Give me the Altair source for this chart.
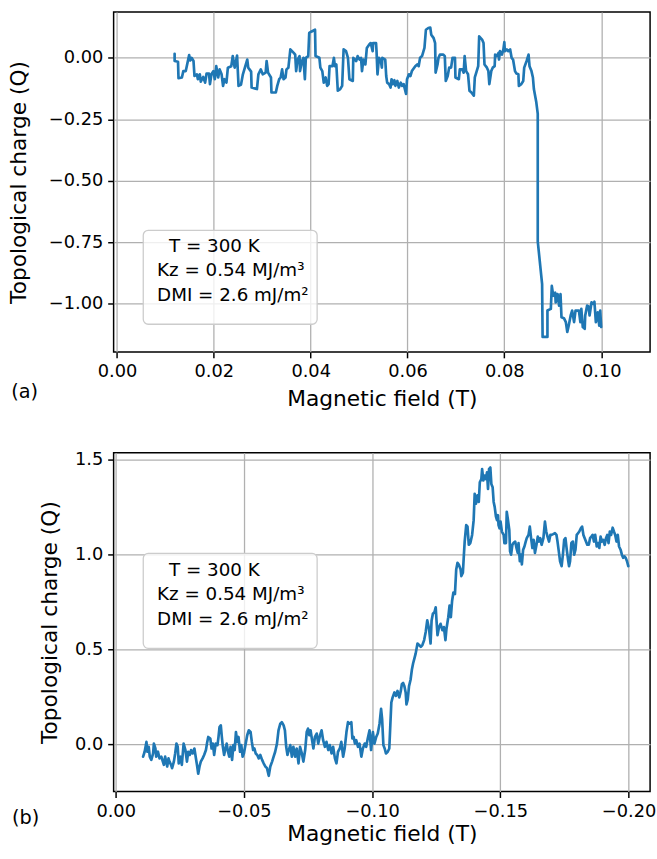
import altair as alt
import pandas as pd

# ---------------- data ----------------
# Panel (a): increasing field
TOP_FIELD = [
    0.0119, 0.0119, 0.0126, 0.0127, 0.0134, 0.0137, 0.0142, 0.0149, 0.0151, 0.0154,
    0.0158, 0.0160, 0.0165, 0.0167, 0.0171, 0.0173, 0.0178, 0.0182, 0.0185, 0.0190,
    0.0192, 0.0195, 0.0199, 0.0202, 0.0205, 0.0209, 0.0212, 0.0216, 0.0219, 0.0222,
    0.0226, 0.0229, 0.0236, 0.0239, 0.0243, 0.0248, 0.0251, 0.0256, 0.0260, 0.0269,
    0.0271, 0.0277, 0.0278, 0.0289, 0.0292, 0.0297, 0.0301, 0.0307, 0.0309, 0.0312,
    0.0318, 0.0319, 0.0328, 0.0331, 0.0335, 0.0338, 0.0341,
    0.0344, 0.0348, 0.0350, 0.0354, 0.0358, 0.0365, 0.0368, 0.0370, 0.0373, 0.0377,
    0.0378, 0.0382, 0.0385, 0.0388, 0.0390, 0.0395, 0.0397, 0.0402, 0.0409, 0.0410,
    0.0418, 0.0420, 0.0424, 0.0427, 0.0431, 0.0434, 0.0437, 0.0439, 0.0445, 0.0448,
    0.0450, 0.0453, 0.0456, 0.0461, 0.0465, 0.0468, 0.0473, 0.0477, 0.0480, 0.0487,
    0.0488, 0.0494, 0.0497, 0.0501, 0.0504, 0.0506, 0.0509, 0.0513, 0.0516, 0.0521,
    0.0524, 0.0528, 0.0529, 0.0535, 0.0536, 0.0538, 0.0541, 0.0545, 0.0547, 0.0548,
    0.0554, 0.0556, 0.0558, 0.0562, 0.0565, 0.0567, 0.0570, 0.0573, 0.0575, 0.0579,
    0.0582, 0.0586, 0.0589, 0.0592, 0.0597, 0.0599, 0.0603, 0.0606, 0.0609, 0.0616,
    0.0620, 0.0623, 0.0626, 0.0630, 0.0635, 0.0638, 0.0643, 0.0647, 0.0649, 0.0654,
    0.0657, 0.0658, 0.0662, 0.0664, 0.0667, 0.0674, 0.0677, 0.0679, 0.0683, 0.0686,
    0.0690,
    0.0693, 0.0698, 0.0699, 0.0706, 0.0708, 0.0713, 0.0716, 0.0718, 0.0721, 0.0725,
    0.0728, 0.0732, 0.0737, 0.0739, 0.0742, 0.0746, 0.0748, 0.0754, 0.0757, 0.0759,
    0.0764, 0.0767, 0.0769, 0.0773, 0.0776, 0.0780, 0.0781, 0.0784, 0.0788, 0.0789,
    0.0791, 0.0795, 0.0798, 0.0800, 0.0801, 0.0805, 0.0808, 0.0812, 0.0815, 0.0818,
    0.0822, 0.0825, 0.0829, 0.0830, 0.0835, 0.0839, 0.0841, 0.0846, 0.0850, 0.0852,
    0.0856, 0.0859, 0.0861, 0.0866, 0.0869,
    0.0869, 0.0878, 0.0879, 0.0889, 0.0889, 0.0896, 0.0898, 0.0901, 0.0905, 0.0906,
    0.0910, 0.0913, 0.0916, 0.0918, 0.0923, 0.0927, 0.0930, 0.0933, 0.0937, 0.0940,
    0.0944, 0.0947, 0.0954, 0.0957, 0.0959, 0.0962, 0.0966, 0.0967, 0.0971, 0.0974,
    0.0976, 0.0980, 0.0984, 0.0986, 0.0989, 0.0991, 0.0993, 0.0996, 0.0998, 0.1000,
]
TOP_Q = [
    0.016, -0.013, -0.016, -0.083, -0.080, -0.054, -0.054, 0.011, -0.011, 0.000,
    -0.013, -0.074, -0.067, -0.087, -0.067, -0.097, -0.078, -0.101, -0.064, -0.064,
    -0.107, -0.067, -0.054, -0.087, -0.034, -0.080, -0.047, -0.067, -0.114, -0.087,
    -0.101, -0.040, -0.034, 0.007, -0.040, 0.009, -0.114, -0.110, -0.067, -0.007,
    -0.040, -0.056, -0.121, -0.127, -0.067, -0.047, -0.067, -0.060, -0.013, -0.060,
    -0.080, -0.141, -0.141, -0.114, -0.087, -0.080, -0.047,
    -0.087, -0.080, -0.047, -0.040, 0.034, 0.020, 0.013, -0.054, -0.007, 0.007,
    -0.054, -0.013, 0.000, -0.087, 0.000, 0.007, 0.101, 0.107, 0.114, 0.007,
    0.000, -0.040, -0.054, -0.101, -0.080, -0.114, -0.107, -0.034, -0.034, 0.000,
    -0.034, -0.027, -0.134, -0.127, -0.114, 0.034, 0.027, 0.000, -0.087, -0.094,
    0.000, -0.013, 0.007, -0.007, 0.000, -0.054, -0.007, -0.027, 0.040, 0.054,
    0.060, 0.027, 0.060, 0.060, 0.027, -0.067, 0.000, -0.013, -0.040, 0.000,
    -0.007, -0.074, -0.101, -0.107, -0.121, -0.087, -0.107, -0.091, -0.114, -0.094,
    -0.121, -0.101, -0.114, -0.107, -0.147, -0.087, -0.067, -0.074, -0.054, -0.034,
    -0.027, -0.034, 0.000, 0.007, 0.040, 0.114, 0.121, 0.123, 0.094, 0.080,
    0.060, -0.060, -0.027, 0.000, 0.013, 0.013, 0.007, -0.094, -0.074, -0.040,
    -0.040,
    0.000, 0.000, -0.080, -0.087, -0.047, -0.047, -0.060, 0.007, -0.054, -0.067,
    -0.134, -0.141, -0.154, -0.080, -0.060, -0.034, 0.087, 0.074, 0.060, -0.027,
    -0.040, -0.054, -0.107, -0.054, -0.040, -0.034, 0.013, 0.007, 0.020, -0.007,
    0.027, 0.013, 0.034, 0.064, 0.027, 0.034, 0.027, 0.034, 0.000, -0.007,
    -0.054, -0.064, -0.067, -0.114, -0.107, -0.094, -0.040, -0.013, 0.013, -0.034,
    -0.054, -0.080, -0.127, -0.181, -0.228,
    -0.746, -0.920, -1.134, -1.134, -1.027, -1.020, -0.927, -0.967, -0.954, -0.994,
    -0.960, -1.007, -0.960, -1.054, -1.058, -1.074, -1.114, -1.088, -1.047, -1.027,
    -1.074, -1.027, -1.027, -1.074, -1.020, -1.094, -1.101, -1.047, -1.007, -1.010,
    -1.047, -0.994, -1.000, -0.991, -1.074, -1.058, -1.034, -1.088, -1.027, -1.094,
]

# Panel (b): decreasing (negative) field
BOT_FIELD = [
    -0.0107, -0.0113, -0.0120, -0.0124, -0.0129, -0.0133, -0.0139, -0.0146, -0.0149, -0.0155,
    -0.0158, -0.0165, -0.0171, -0.0178, -0.0184, -0.0188, -0.0193, -0.0197, -0.0201, -0.0206,
    -0.0210, -0.0216, -0.0220, -0.0227, -0.0232, -0.0237, -0.0242, -0.0246, -0.0253, -0.0258,
    -0.0265, -0.0272, -0.0278, -0.0283, -0.0289, -0.0294, -0.0300, -0.0307, -0.0312, -0.0317,
    -0.0322, -0.0327, -0.0332, -0.0339, -0.0345, -0.0352, -0.0356, -0.0361, -0.0369, -0.0374,
    -0.0379, -0.0384, -0.0390, -0.0397, -0.0401, -0.0405, -0.0410, -0.0414, -0.0418, -0.0423,
    -0.0428, -0.0433, -0.0438, -0.0443, -0.0448, -0.0454, -0.0459, -0.0464, -0.0469, -0.0474,
    -0.0479, -0.0485, -0.0490, -0.0495, -0.0500, -0.0506, -0.0513, -0.0519, -0.0526, -0.0531,
    -0.0536, -0.0541, -0.0546, -0.0552, -0.0558, -0.0564, -0.0571, -0.0577, -0.0584, -0.0590,
    -0.0597, -0.0603, -0.0610, -0.0616, -0.0622, -0.0629, -0.0635, -0.0642, -0.0648, -0.0655,
    -0.0660, -0.0665, -0.0670, -0.0675, -0.0681, -0.0687, -0.0693, -0.0700, -0.0706, -0.0713,
    -0.0719, -0.0726, -0.0732, -0.0739, -0.0745, -0.0750, -0.0755, -0.0760, -0.0766, -0.0771,
    -0.0777, -0.0784, -0.0790, -0.0797, -0.0803, -0.0809, -0.0816, -0.0822, -0.0829, -0.0835,
    -0.0842, -0.0848, -0.0855, -0.0861, -0.0867, -0.0874, -0.0880, -0.0887, -0.0893, -0.0900,
    -0.0906, -0.0913, -0.0919, -0.0923, -0.0928, -0.0933, -0.0938, -0.0945, -0.0951, -0.0958,
    -0.0964, -0.0971, -0.0977, -0.0983, -0.0990, -0.0996, -0.1003, -0.1009, -0.1016, -0.1022,
    -0.1029, -0.1035, -0.1039, -0.1044, -0.1049, -0.1054, -0.1061, -0.1067, -0.1071, -0.1075,
    -0.1080, -0.1087, -0.1093, -0.1099, -0.1106, -0.1112, -0.1116,
    -0.1121, -0.1126, -0.1131, -0.1134, -0.1139, -0.1144, -0.1150, -0.1155, -0.1160, -0.1165,
    -0.1170, -0.1177, -0.1183, -0.1190, -0.1196, -0.1203, -0.1209, -0.1215, -0.1222, -0.1228,
    -0.1232, -0.1237, -0.1243, -0.1248, -0.1252, -0.1255, -0.1261, -0.1267, -0.1274, -0.1280,
    -0.1286, -0.1290, -0.1297, -0.1302, -0.1307, -0.1312, -0.1317, -0.1323, -0.1328, -0.1333,
    -0.1338, -0.1345, -0.1348, -0.1354, -0.1358, -0.1361, -0.1367, -0.1372, -0.1377, -0.1383,
    -0.1390, -0.1396, -0.1400, -0.1405, -0.1411, -0.1416, -0.1420, -0.1426, -0.1429, -0.1434,
    -0.1439, -0.1444, -0.1448, -0.1452, -0.1456, -0.1461, -0.1465, -0.1470, -0.1474, -0.1478,
    -0.1483, -0.1487, -0.1491, -0.1493, -0.1497, -0.1501, -0.1506, -0.1513, -0.1516, -0.1522,
    -0.1525, -0.1529, -0.1535, -0.1538, -0.1542, -0.1547, -0.1551, -0.1558, -0.1563, -0.1568,
    -0.1571, -0.1576, -0.1581, -0.1584, -0.1589, -0.1594, -0.1599, -0.1603, -0.1610, -0.1615,
    -0.1620, -0.1625, -0.1630, -0.1635, -0.1641, -0.1646, -0.1651, -0.1656, -0.1661, -0.1668,
    -0.1674, -0.1679, -0.1684, -0.1690, -0.1695, -0.1700, -0.1706, -0.1713, -0.1719, -0.1723,
    -0.1728, -0.1733, -0.1739, -0.1744, -0.1749, -0.1754, -0.1759, -0.1765, -0.1768, -0.1772,
    -0.1777, -0.1783, -0.1788, -0.1793, -0.1798, -0.1803, -0.1808, -0.1814, -0.1819, -0.1824,
    -0.1829, -0.1834, -0.1839, -0.1845, -0.1850, -0.1855, -0.1860, -0.1865, -0.1870, -0.1876,
    -0.1881, -0.1886, -0.1891, -0.1896, -0.1901, -0.1907, -0.1912, -0.1917, -0.1922, -0.1927,
    -0.1932, -0.1938, -0.1943, -0.1948, -0.1953, -0.1958, -0.1963, -0.1969, -0.1974, -0.1979,
    -0.1984, -0.1989, -0.1994, -0.1999,
]
BOT_Q = [
    -0.066, -0.040, 0.012, -0.040, -0.014, -0.066, -0.083, -0.049, 0.003, -0.023,
    -0.066, -0.040, -0.075, -0.066, -0.092, -0.109, -0.066, -0.092, -0.118, -0.075,
    -0.092, -0.109, -0.127, -0.092, -0.049, 0.003, -0.014, -0.101, -0.066, -0.109,
    0.003, -0.031, -0.092, -0.040, -0.057, -0.031, -0.049, -0.023, -0.066, -0.109,
    -0.156, -0.118, -0.092, -0.075, -0.057, -0.031, 0.003, 0.038, 0.030, -0.023,
    0.003, -0.057, 0.003, -0.005, 0.038, 0.090, 0.099, 0.038, -0.014, -0.057,
    -0.023, 0.003, -0.040, -0.066, -0.014, -0.083, -0.005, -0.031, 0.064, 0.012,
    0.038, -0.040, -0.005, -0.066, -0.049, -0.005, 0.047, 0.073, 0.064, 0.012,
    -0.031, -0.023, -0.049, -0.057, -0.075, -0.057, -0.083, -0.101, -0.118, -0.127,
    -0.167, -0.118, -0.092, -0.066, -0.040, 0.003, 0.073, 0.108, 0.116, 0.099,
    0.073, -0.014, -0.057, -0.031, -0.005, -0.066, -0.014, -0.066, -0.023, -0.101,
    -0.014, -0.049, -0.092, -0.031, 0.064, 0.082, 0.047, 0.073, 0.021, -0.023,
    0.038, 0.056, 0.003, 0.047, 0.073, 0.021, -0.014, 0.012, -0.031, -0.005,
    -0.049, -0.014, -0.075, -0.101, -0.040, -0.023, 0.012, -0.066, -0.023, 0.064,
    0.116, 0.108, 0.116, 0.030, 0.038, 0.003, 0.021, -0.014, 0.003, -0.066,
    -0.023, 0.003, -0.014, 0.030, 0.073, -0.031, 0.064, 0.003, 0.038, 0.056,
    0.108, 0.186, 0.134, -0.005, -0.023, -0.049, -0.040, -0.023, 0.099, 0.220,
    0.247, 0.273, 0.255, 0.281, 0.247, 0.281, 0.316,
    0.323, 0.306, 0.271, 0.210, 0.236, 0.306, 0.340, 0.392, 0.427, 0.453,
    0.479, 0.531, 0.523, 0.514, 0.523, 0.549, 0.592, 0.653, 0.609, 0.531,
    0.653, 0.688, 0.696, 0.722, 0.635, 0.575, 0.618, 0.635, 0.601, 0.618,
    0.549, 0.609, 0.670, 0.731, 0.670, 0.757, 0.800, 0.792, 0.922, 0.957,
    0.948, 0.922, 0.887, 0.905, 1.000, 1.069, 1.156, 1.148, 1.052, 1.061,
    1.104, 1.182, 1.321, 1.269, 1.313, 1.278, 1.382, 1.399, 1.451, 1.391,
    1.417, 1.399, 1.434, 1.347, 1.451, 1.460, 1.373, 1.356, 1.278, 1.252,
    1.200, 1.182, 1.208, 1.156, 1.139, 1.174, 1.122, 1.104, 1.061, 1.061,
    1.226, 1.191, 1.130, 1.017, 1.000, 1.052, 1.061, 1.069, 1.035, 1.009,
    1.061, 0.965, 1.000, 0.948, 1.026, 1.043, 1.069, 1.087, 1.104, 1.148,
    1.087, 1.035, 1.078, 1.009, 1.052, 1.095, 1.069, 1.087, 1.052, 1.087,
    1.174, 1.122, 1.095, 1.069, 1.104, 1.104, 1.108, 1.113, 1.104, 1.069,
    1.017, 0.965, 0.939, 1.000, 1.078, 1.087, 1.026, 0.965, 0.939, 0.965,
    1.061, 1.069, 1.000, 1.026, 1.104, 1.113, 1.122, 1.139, 1.148, 1.104,
    1.087, 1.069, 1.052, 1.052, 1.087, 1.095, 1.104, 1.069, 1.104, 1.043,
    1.061, 1.035, 1.095, 1.069, 1.078, 1.052, 1.087, 1.104, 1.061, 1.122,
    1.104, 1.142, 1.122, 1.104, 1.069, 1.104, 1.043, 1.026, 1.000, 0.983,
    0.991, 0.983, 0.965, 0.939,
]

TOP_XTICKS = [0.0, 0.02, 0.04, 0.06, 0.08, 0.10]
TOP_YTICKS = [0.0, -0.25, -0.5, -0.75, -1.0]
BOT_XTICKS = [0.0, -0.05, -0.10, -0.15, -0.20]
BOT_YTICKS = [0.0, 0.5, 1.0, 1.5]
LEGEND_LINES = ["T = 300 K", "Kz = 0.54 MJ/m\u00b3", "DMI = 2.6 mJ/m\u00b2"]
LEGEND_INDENT = [12, 0, 0]
X_TITLE = "Magnetic field (T)"
Y_TITLE = "Topological charge (Q)"

FONT = "DejaVu Sans"
BLUE = "#1f77b4"


def panel(xs, qs, xdom, xrev, xticks, ydom, yticks, yfmt, w, h, box, text0, tag, tagpos,
          ytpad, xtpad):
    df = pd.DataFrame({"field": xs, "q": qs, "i": list(range(len(xs)))})
    xenc = alt.X(
        "field:Q",
        scale=alt.Scale(domain=xdom, nice=False, zero=False, reverse=xrev),
        axis=alt.Axis(values=xticks, format=".2f", title=X_TITLE, labelFlush=False,
                      labelOverlap=False, titlePadding=xtpad),
    )
    yenc = alt.Y(
        "q:Q",
        scale=alt.Scale(domain=ydom, nice=False, zero=False),
        axis=alt.Axis(values=yticks, format=yfmt, title=Y_TITLE, labelOverlap=False,
                      titlePadding=ytpad),
    )
    line = alt.Chart(df).mark_line(color=BLUE, strokeWidth=2.7, clip=True,
                                   strokeJoin="round", strokeCap="round").encode(
        x=xenc, y=yenc, order="i:Q")
    one = pd.DataFrame({"k": [0]})
    bx0, by0, bx1, by1 = box
    rect = alt.Chart(one).mark_rect(fill="white", fillOpacity=0.8, stroke="#cccccc",
                                    strokeWidth=1.3, cornerRadius=5).encode(
        x=alt.value(bx0), x2=alt.value(bx1), y=alt.value(by0), y2=alt.value(by1))
    texts = []
    for k, t in enumerate(LEGEND_LINES):
        texts.append(
            alt.Chart(one).mark_text(text=t, align="left", baseline="middle", font=FONT,
                                     fontSize=18.5, color="black").encode(
                x=alt.value(text0[0] + LEGEND_INDENT[k]), y=alt.value(text0[1] + k * 24.5)))
    tagm = alt.Chart(one).mark_text(text=tag, align="center", baseline="middle", font=FONT,
                                    fontSize=19.5, color="black").encode(
        x=alt.value(tagpos[0]), y=alt.value(tagpos[1]))
    return alt.layer(line, rect, *texts, tagm).properties(width=w, height=h)


top = panel(TOP_FIELD, TOP_Q, [-0.0007, 0.1101], False, TOP_XTICKS,
            [-1.195, 0.186], TOP_YTICKS, ".2f", 543, 344,
            (30, 221, 206, 316), (44, 237), "(a)", (-90, 385), 18, 8)
bottom = panel(BOT_FIELD, BOT_Q, [-0.2084, 0.0008], True, BOT_XTICKS,
               [-0.25, 1.538], BOT_YTICKS, ".1f", 543, 343,
               (30, 102, 206, 198), (44, 119), "(b)", (-89, 370), 13, 4)

chart = alt.vconcat(top, bottom, spacing=40).configure(
    font=FONT,
    padding={"left": 7, "top": 6, "right": 0, "bottom": 0},
).configure_view(
    stroke="black", strokeWidth=1.5
).configure_axis(
    labelFont=FONT, titleFont=FONT, labelFontSize=18, titleFontSize=22,
    titleFontWeight="normal", labelColor="black", titleColor="black",
    tickColor="black", tickSize=6, tickWidth=1.5, domain=False, grid=True,
    gridColor="#b0b0b0", gridWidth=1.3, labelPadding=5,
)

chart.save("out.html", embed_options={"renderer": "svg", "actions": False})
